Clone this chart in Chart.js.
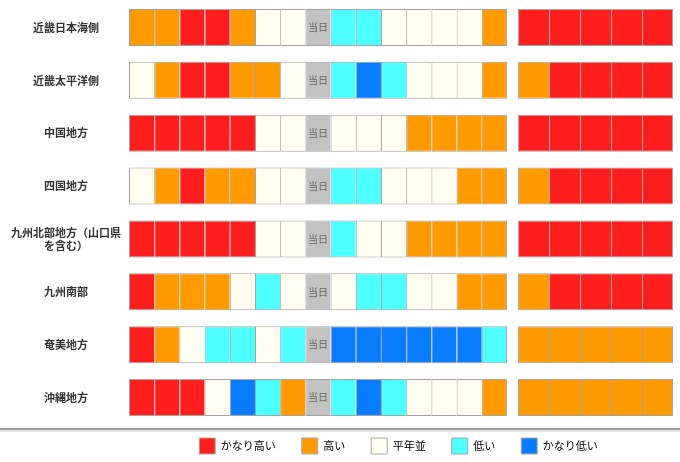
<!DOCTYPE html>
<html lang="ja">
<head>
<meta charset="utf-8">
<title>地域別 気温の見通し</title>
<script src="https://cdn.jsdelivr.net/npm/chart.js@4.4.1/dist/chart.umd.min.js"></script>
<style>
  html, body { margin: 0; padding: 0; background: #fff; }
</style>
</head>
<body>
<canvas id="outlookChart" width="680" height="462"></canvas>
<script>
// regions (rows)
const regions = [
  "近畿日本海側",
  "近畿太平洋側",
  "中国地方",
  "四国地方",
  ["九州北部地方（山口県", "を含む）"],
  "九州南部",
  "奄美地方",
  "沖縄地方"
];

// 2: かなり高い, 1: 高い, 0: 平年並, -1: 低い, -2: かなり低い, null: 当日
const dailyCodes = [
  [1, 1, 2, 2, 1, 0, 0, null, -1, -1, 0, 0, 0, 0, 1],
  [0, 1, 2, 2, 1, 1, 0, null, -1, -2, -1, 0, 0, 0, 1],
  [2, 2, 2, 2, 2, 0, 0, null, 0, 0, 0, 1, 1, 1, 1],
  [0, 1, 2, 1, 1, 0, 0, null, -1, -1, 0, 0, 0, 1, 1],
  [2, 2, 2, 2, 2, 0, 0, null, -1, 0, 0, 1, 1, 1, 1],
  [2, 1, 1, 1, 0, -1, 0, null, 0, -1, -1, 0, 0, 1, 1],
  [2, 1, 0, -1, -1, 0, -1, null, -2, -2, -2, -2, -2, -2, -1],
  [2, 2, 2, 0, -2, -1, 1, null, -1, -2, -1, 0, 0, 0, 1]
];

const periodCodes = [
  [2, 2, 2, 2, 2],
  [1, 2, 2, 2, 2],
  [2, 2, 2, 2, 2],
  [1, 2, 2, 2, 2],
  [2, 2, 2, 2, 2],
  [1, 2, 2, 2, 2],
  [1, 1, 1, 1, 1],
  [1, 1, 1, 1, 1]
];

const levelCodes = [2, 1, 0, -1, -2];
const levelLabels = ["かなり高い", "高い", "平年並", "低い", "かなり低い"];
const levelColors = ["#ff1e1e", "#ff9a00", "#fffef0", "#4dffff", "#0a7cff"];
const todayLabel = "当日";
const todayColor = "#c3c3c3";

// layout of the two blocks, in "daily cell" units
const DAY_W = 1;
const PERIOD_W = 1.23;
const BLOCK_GAP = 0.44;
const CELL_BORDER = "rgba(70, 70, 70, 0.5)";
const FONT = "'Noto Sans CJK JP', 'Noto Sans', sans-serif";

function colorFor(code) {
  if (code === null) return todayColor;
  return levelColors[levelCodes.indexOf(code)];
}

const todayCol = dailyCodes[0].indexOf(null);
const dailyCount = dailyCodes[0].length;
const periodCount = periodCodes[0].length;
const periodStart = dailyCount * DAY_W + BLOCK_GAP;
const xMax = periodStart + periodCount * PERIOD_W;

const datasets = [];
for (let c = 0; c < dailyCount; c++) {
  datasets.push({
    label: "day" + c,
    data: regions.map(() => [c * DAY_W, (c + 1) * DAY_W]),
    backgroundColor: dailyCodes.map((row) => colorFor(row[c])),
    borderColor: CELL_BORDER,
    borderWidth: { top: 1, bottom: 1, left: 1, right: c === dailyCount - 1 ? 1 : 0 }
  });
}
for (let c = 0; c < periodCount; c++) {
  datasets.push({
    label: "period" + c,
    data: regions.map(() => [periodStart + c * PERIOD_W, periodStart + (c + 1) * PERIOD_W]),
    backgroundColor: periodCodes.map((row) => colorFor(row[c])),
    borderColor: CELL_BORDER,
    borderWidth: { top: 1, bottom: 1, left: 1, right: c === periodCount - 1 ? 1 : 0 }
  });
}

// writes 当日 into the cells of the today column
const todayTextPlugin = {
  id: "todayText",
  afterDatasetsDraw(chart) {
    const ctx = chart.ctx;
    const meta = chart.getDatasetMeta(todayCol);
    ctx.save();
    ctx.font = "10px " + FONT;
    ctx.fillStyle = "#666";
    ctx.textAlign = "center";
    ctx.textBaseline = "middle";
    meta.data.forEach((bar) => {
      const { x, y, base } = bar.getProps(["x", "y", "base"], true);
      ctx.fillText(todayLabel, (x + base) / 2, y);
    });
    ctx.restore();
  }
};

// legend centred under the plot, with a rule above it
const legendPlacePlugin = {
  id: "legendPlace",
  afterLayout(chart) {
    const legend = chart.legend;
    legend.left = chart.chartArea.left - 5;
    legend.top = chart.chartArea.bottom + 14 - legend.options.labels.padding;
  },
  afterDraw(chart) {
    const ctx = chart.ctx;
    const y = chart.chartArea.bottom + 4;
    ctx.save();
    ctx.fillStyle = "#9a9a9a";
    ctx.fillRect(0, y, chart.width, 2);
    ctx.fillStyle = "#e2e2e2";
    ctx.fillRect(0, y + 2, chart.width, 2);
    ctx.restore();
  }
};

Chart.defaults.font.family = FONT;

new Chart(document.getElementById("outlookChart").getContext("2d"), {
  type: "bar",
  data: {
    labels: regions,
    datasets: datasets
  },
  options: {
    responsive: false,
    animation: false,
    indexAxis: "y",
    layout: {
      padding: { top: 1, right: 7, left: 0, bottom: 0 }
    },
    datasets: {
      bar: {
        grouped: false,
        borderSkipped: false,
        barPercentage: 0.7,
        categoryPercentage: 1
      }
    },
    plugins: {
      tooltip: { enabled: false },
      legend: {
        position: "bottom",
        maxHeight: 38,
        onClick: () => {},
        labels: {
          boxWidth: 16,
          boxHeight: 16,
          padding: 26,
          color: "#555",
          font: { size: 11 },
          generateLabels: () => levelLabels.map((text, i) => ({
            text: text,
            fillStyle: levelColors[i],
            strokeStyle: "#aaa",
            lineWidth: 1,
            hidden: false,
            index: i
          }))
        }
      }
    },
    scales: {
      x: {
        type: "linear",
        display: false,
        min: 0,
        max: xMax
      },
      y: {
        type: "category",
        grid: { display: false, drawTicks: false },
        border: { display: false },
        afterFit: (scale) => {
          scale.width = 129;
          scale.paddingTop = 0;
          scale.paddingBottom = 0;
        },
        ticks: {
          crossAlign: "center",
          padding: 8,
          color: "#333",
          font: { size: 11, weight: "bold" }
        }
      }
    }
  },
  plugins: [todayTextPlugin, legendPlacePlugin]
});
</script>
</body>
</html>
